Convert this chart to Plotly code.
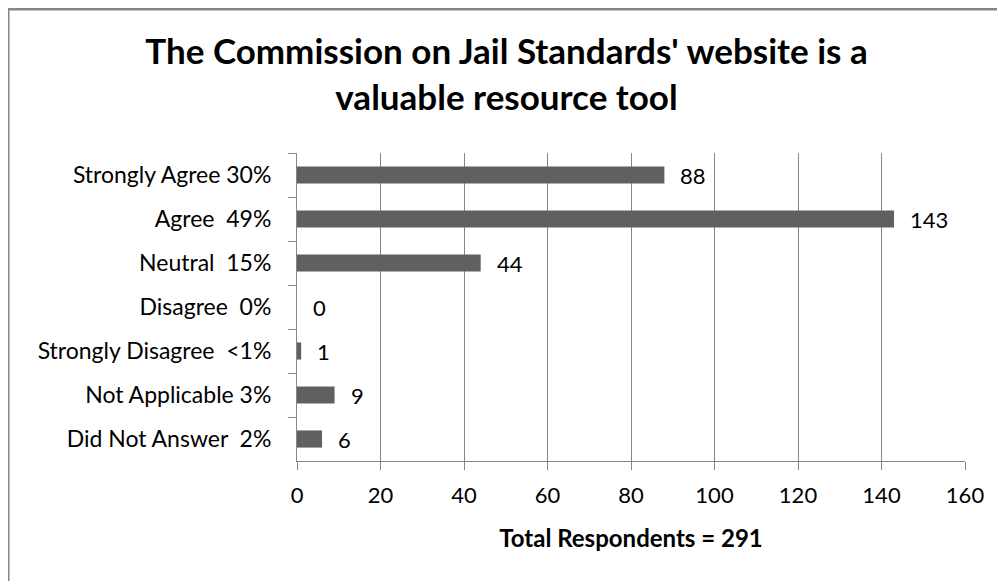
import plotly.graph_objects as go

categories = ["Strongly Agree 30%", "Agree\u00a0\u00a049%", "Neutral\u00a0\u00a015%", "Disagree\u00a0\u00a00%",
              "Strongly Disagree\u00a0\u00a0<1%", "Not Applicable 3%", "Did Not Answer\u00a0\u00a02%"]
values = [88, 143, 44, 0, 1, 9, 6]
x_ticks = [0, 20, 40, 60, 80, 100, 120, 140, 160]
title_text = "The Commission on Jail Standards' website is a<br>valuable resource tool"
xaxis_title = "Total Respondents = 291"

FONT = "Lato"
GRAY = "#868686"
BAR = "#606060"

W, H = 997, 573
ML, MR, MT, MB = 289, 40, 145, 120
PW, PH = W - ML - MR, H - MT - MB

fig = go.Figure()
fig.add_trace(go.Bar(
    x=values, y=categories, orientation="h",
    marker=dict(color=BAR, line=dict(width=0)),
    width=0.39,
    hoverinfo="x+y",
))

for c, v in zip(categories, values):
    fig.add_annotation(x=v, y=c, text=str(v), showarrow=False, xanchor="left",
                       xshift=14, font=dict(family=FONT, size=22, color="#000000"))

fig.update_layout(
    width=W, height=H,
    margin=dict(l=ML, r=MR, t=MT, b=MB, autoexpand=False),
    paper_bgcolor="white", plot_bgcolor="white",
    showlegend=False,
    title=dict(text=title_text, x=0.5, xref="container", xanchor="center",
               y=1 - 56 / H, yref="container", yanchor="middle",
               font=dict(family=FONT, size=35, color="#000000", weight="bold")),
    font=dict(family=FONT, size=21, color="#000000"),
    xaxis=dict(range=[0, 160], tickvals=x_ticks, ticktext=[str(t) for t in x_ticks],
               showgrid=True, gridcolor=GRAY, gridwidth=1,
               showline=True, linecolor=GRAY, linewidth=1,
               ticks="outside", ticklen=8, tickcolor=GRAY,
               zeroline=False, tickfont=dict(size=22), ticklabelstandoff=7,
               title=dict(text="<b>" + xaxis_title + "</b>", font=dict(family=FONT, size=24), standoff=22)),
    yaxis=dict(categoryorder="array", categoryarray=categories, autorange="reversed",
               showline=True, linecolor=GRAY, linewidth=1,
               ticks="outside", ticklen=8, tickcolor=GRAY, tickson="boundaries",
               showgrid=False, ticklabelstandoff=20, tickfont=dict(size=23)),
    bargap=0.61,
    shapes=[
        dict(type="line", xref="paper", yref="paper",
             x0=(0 - ML) / PW, x1=(W + 200 - ML) / PW,
             y0=(H - MB - 1) / PH, y1=(H - MB - 1) / PH,
             line=dict(color=GRAY, width=3), layer="below"),
        dict(type="line", xref="paper", yref="paper",
             x0=(0 - ML) / PW, x1=(0 - ML) / PW,
             y0=-1.0, y1=(H - MB - 1) / PH,
             line=dict(color=GRAY, width=3), layer="below"),
    ],
)

fig.write_html("out.html")
